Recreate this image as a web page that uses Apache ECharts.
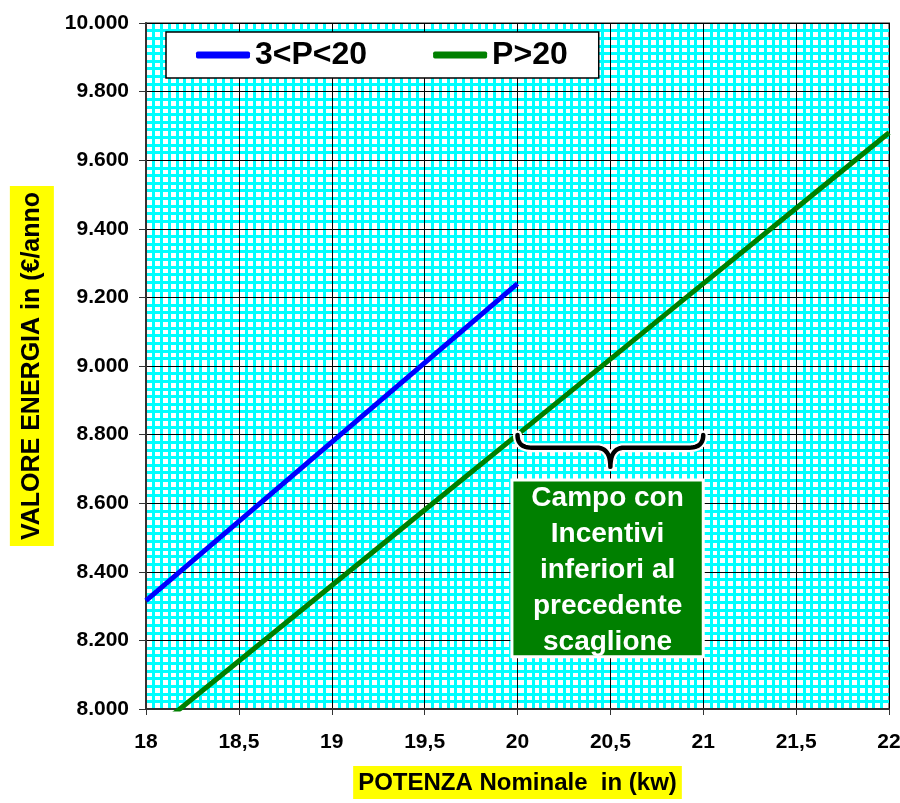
<!DOCTYPE html>
<html>
<head>
<meta charset="utf-8">
<script src="https://cdn.jsdelivr.net/npm/echarts@6/dist/echarts.min.js"></script>
<style>
html,body{margin:0;padding:0;background:#fff;}
#chart{width:900px;height:803px;}
</style>
</head>
<body>
<div id="chart"></div>
<script>
// ---- data ----
const potenzaBassa = [18, 18.5, 19, 19.5, 20];
const valoreBassa  = [8316, 8547, 8778, 9009, 9240];          // 3<P<20
const potenzaAlta  = [18, 18.5, 19, 19.5, 20, 20.5, 21, 21.5, 22];
const valoreAlta   = [7920, 8140, 8360, 8580, 8800, 9020, 9240, 9460, 9680]; // P>20
const seriesNames  = ['3<P<20', 'P>20'];
const xTitle = 'POTENZA Nominale  in (kw)';
const yTitle = 'VALORE ENERGIA in (\u20AC/anno';
const noteLines = ['Campo con', 'Incentivi', 'inferiori al', 'precedente', 'scaglione'];

// annotation anchor values (axis units)
const braceX = [20, 21];
const braceY = { top: 8799, mid: 8762, tip: 8706 };
const boxX = [19.97, 21];
const boxY = [8668, 8152];

const FONT = '"Liberation Sans", Arial, sans-serif';

const pairs = (xs, ys) => xs.map((x, i) => [x, ys[i]]);

const chart = echarts.init(document.getElementById('chart'), null, {renderer: 'canvas'});

const xCommon = {type: 'value', min: 18, max: 22, interval: 0.5};
const yCommon = {type: 'value', min: 8000, max: 10000, interval: 200};

chart.setOption({
  animation: false,
  backgroundColor: '#fff',
  grid: {left: 146, right: 11, top: 23, bottom: 94, show: true, outerBoundsMode: 'none', containLabel: false,
         backgroundColor: '#fff', borderColor: '#8c8c8c', borderWidth: 2},
  legend: {
    left: 166, top: 32, padding: [7, 31, 7, 30], itemGap: 66,
    backgroundColor: '#fff', borderColor: '#000', borderWidth: 1.5,
    itemWidth: 54, itemHeight: 7,
    textStyle: {fontFamily: FONT, fontWeight: 'bold', fontSize: 32, color: '#000'},
    data: seriesNames.map(n => ({name: n, icon: 'roundRect'}))
  },
  xAxis: [
    Object.assign({}, xCommon, {
      z: 3,
      axisLine: {show: true, onZero: false, lineStyle: {color: '#333', width: 2}},
      axisTick: {show: true, length: 6, lineStyle: {color: '#333', width: 1}},
      axisLabel: {margin: 23, fontFamily: FONT, fontWeight: 'bold', fontSize: 21, color: '#000',
                  formatter: v => String(v).replace('.', ',')},
      splitLine: {show: true, lineStyle: {color: '#000', width: 1}},
      name: xTitle, nameLocation: 'middle', nameGap: 57,
      nameTextStyle: {fontFamily: FONT, fontWeight: 'bold', fontSize: 24, color: '#000',
                      backgroundColor: '#ffff00', padding: [5, 5, 4, 5]}
    }),
    Object.assign({}, xCommon, {
      z: 1, position: 'top', show: true,
      axisLine: {show: false}, axisTick: {show: false}, axisLabel: {show: false},
      splitLine: {show: false},
      minorTick: {show: false, splitNumber: 12},
      minorSplitLine: {show: true, lineStyle: {color: '#00ffff', width: 3}}
    })
  ],
  yAxis: [
    Object.assign({}, yCommon, {
      z: 3,
      axisLine: {show: true, onZero: false, lineStyle: {color: '#333', width: 2}},
      axisTick: {show: true, length: 7, lineStyle: {color: '#333', width: 1}},
      axisLabel: {margin: 17, fontFamily: FONT, fontWeight: 'bold', fontSize: 21, color: '#000',
                  formatter: v => v.toLocaleString('de-DE', {minimumFractionDigits: 0})},
      splitLine: {show: true, lineStyle: {color: '#000', width: 1}},
      name: yTitle, nameLocation: 'middle', nameRotate: 90, nameGap: 89,
      nameTextStyle: {fontFamily: FONT, fontWeight: 'bold', fontSize: 25, color: '#000',
                      backgroundColor: '#ffff00', padding: [10, 6, 9, 6]}
    }),
    Object.assign({}, yCommon, {
      z: 1, position: 'right', show: true,
      axisLine: {show: false}, axisTick: {show: false}, axisLabel: {show: false},
      splitLine: {show: false},
      minorTick: {show: false, splitNumber: 9},
      minorSplitLine: {show: true, lineStyle: {color: '#00ffff', width: 3}}
    })
  ],
  series: [
    {name: seriesNames[0], type: 'line', xAxisIndex: 0, yAxisIndex: 0, z: 5,
     data: pairs(potenzaBassa, valoreBassa), symbol: 'none', clip: true,
     itemStyle: {color: '#0000ff'}, lineStyle: {color: '#0000ff', width: 5}},
    {name: seriesNames[1], type: 'line', xAxisIndex: 0, yAxisIndex: 0, z: 5,
     data: pairs(potenzaAlta, valoreAlta), symbol: 'none', clip: true,
     itemStyle: {color: '#008000'}, lineStyle: {color: '#008000', width: 5}}
  ]
});

function px(x, y) { return chart.convertToPixel({xAxisIndex: 0, yAxisIndex: 0}, [x, y]); }

const [xL, yTop] = px(braceX[0], braceY.top);
const [xR] = px(braceX[1], braceY.top);
const yMid = px(braceX[0], braceY.mid)[1];
const yTip = px(braceX[0], braceY.tip)[1];
const xC = (xL + xR) / 2;
const r = 14;

function quad(p0, p1, p2, n) {
  const out = [];
  for (let i = 0; i <= n; i++) {
    const t = i / n, u = 1 - t;
    out.push([u * u * p0[0] + 2 * u * t * p1[0] + t * t * p2[0],
              u * u * p0[1] + 2 * u * t * p1[1] + t * t * p2[1]]);
  }
  return out;
}
const bracePts = [].concat(
  quad([xL, yTop], [xL, yMid], [xL + r, yMid], 12),
  quad([xC - r, yMid], [xC, yMid], [xC, yTip], 12),
  quad([xC, yTip], [xC, yMid], [xC + r, yMid], 12),
  quad([xR - r, yMid], [xR, yMid], [xR, yTop], 12)
);

const [bx1, by1] = px(boxX[0], boxY[0]);
const [bx2, by2] = px(boxX[1], boxY[1]);

chart.setOption({
  graphic: [
    {type: 'polyline', z: 20, shape: {points: bracePts},
     style: {fill: null, stroke: '#fff', lineWidth: 9, lineCap: 'round', lineJoin: 'round'}},
    {type: 'polyline', z: 21, shape: {points: bracePts},
     style: {fill: null, stroke: '#000', lineWidth: 4.5, lineCap: 'round', lineJoin: 'round'}},
    {type: 'rect', z: 20, shape: {x: bx1, y: by1, width: bx2 - bx1, height: by2 - by1},
     style: {fill: '#008000', stroke: '#fff', lineWidth: 3}},
    {type: 'text', z: 21, x: (bx1 + bx2) / 2, y: (by1 + by2) / 2 + 2,
     style: {text: noteLines.join('\n'), fill: '#fff', font: 'bold 28px ' + FONT,
             align: 'center', verticalAlign: 'middle', lineHeight: 36}}
  ]
});
</script>
</body>
</html>
